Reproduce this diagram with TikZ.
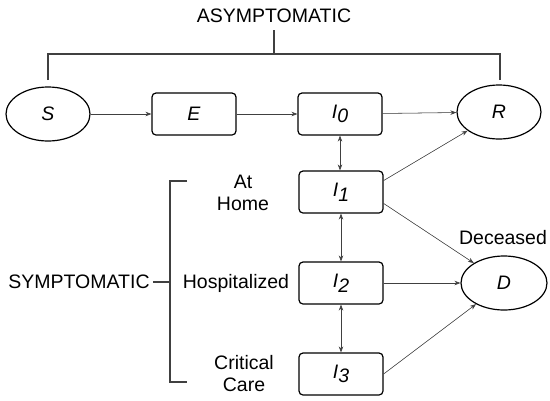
\documentclass[tikz,border=0pt]{standalone}
\usepackage{fontspec}
\setmainfont{Liberation Sans}
\usetikzlibrary{shapes.geometric,arrows.meta}
\newcommand{\lab}[2]{\textit{#1}\raisebox{-0.45ex}{\textit{#2}}}
\begin{document}
\begin{tikzpicture}[x=1pt,y=-1pt,
  every node/.style={font=\fontsize{19.5}{22}\selectfont, inner sep=0pt},
  stbox/.style={draw, rounded corners=4pt, line width=1.2pt, minimum width=84pt, minimum height=42pt},
  stoval/.style={draw, ellipse, line width=1.2pt, minimum width=84pt, minimum height=54pt},
  arr/.style={-{Stealth[length=6pt,width=4.5pt]}, line width=0.55pt, draw=black!75, fill=black!75},
  darr/.style={{Stealth[length=6pt,width=4.5pt]}-{Stealth[length=6pt,width=4.5pt]}, line width=0.55pt, draw=black!75},
  brk/.style={line width=1.1pt, draw=black!75},
  lbl/.style={align=center}]
\useasboundingbox (0,0) rectangle (550,400);
% compartments
\node[stoval] (S) at (48,114) {\textit{S}};
\node[stbox] (E) at (194,114) {\textit{E}};
\node[stbox] (I0) at (340,114) {\lab{I}{0}};
\node[stoval] (R) at (499,112) {\textit{R}};
\node[stbox] (I1) at (341,192) {\lab{I}{1}};
\node[stbox] (I2) at (341,283) {\lab{I}{2}};
\node[stbox] (I3) at (341,374) {\lab{I}{3}};
\node[stoval, minimum width=86pt] (D) at (504,283) {\textit{D}};
% labels
\node[lbl] (home) at (243,193) {At\\Home};
\node[lbl] (hosp) at (236,283) {Hospitalized};
\node[lbl] (crit) at (244,374) {Critical\\Care};
\node[lbl] (dec) at (503,238) {Deceased};
\node (asym) at (274,16) {ASYMPTOMATIC};
\node (sym) at (79,282) {SYMPTOMATIC};
% asymptomatic bracket
\coordinate (a0) at (274,30);
\coordinate (a1) at (274,54);
\coordinate (aL) at (48,54);
\coordinate (aR) at (500,54);
\coordinate (aLb) at (48,80);
\coordinate (aRb) at (500,80);
\draw[brk] (a0) -- (a1);
\draw[brk] (aLb) -- (aL) -- (aR) -- (aRb);
% symptomatic bracket
\coordinate (sT) at (187,181);
\coordinate (sTc) at (170,181);
\coordinate (sBc) at (170,382);
\coordinate (sB) at (187,382);
\coordinate (sM) at (170,282);
\coordinate (sL) at (153,282);
\draw[brk] (sT) -- (sTc) -- (sBc) -- (sB);
\draw[brk] (sL) -- (sM);
% flows
\draw[arr] (S) -- (E);
\draw[arr] (E) -- (I0);
\draw[arr] (I0) -- (R);
\draw[darr] (I0.south) -- (I0.south |- I1.north);
\draw[darr] (I1.south) -- (I2.north);
\draw[darr] (I2.south) -- (I3.north);
\draw[arr] (I1.15) -- (R);
\draw[arr] (I1.-15) -- (D);
\draw[arr] (I2) -- (D);
\draw[arr] (I3.east) -- (D);
\end{tikzpicture}
\end{document}
